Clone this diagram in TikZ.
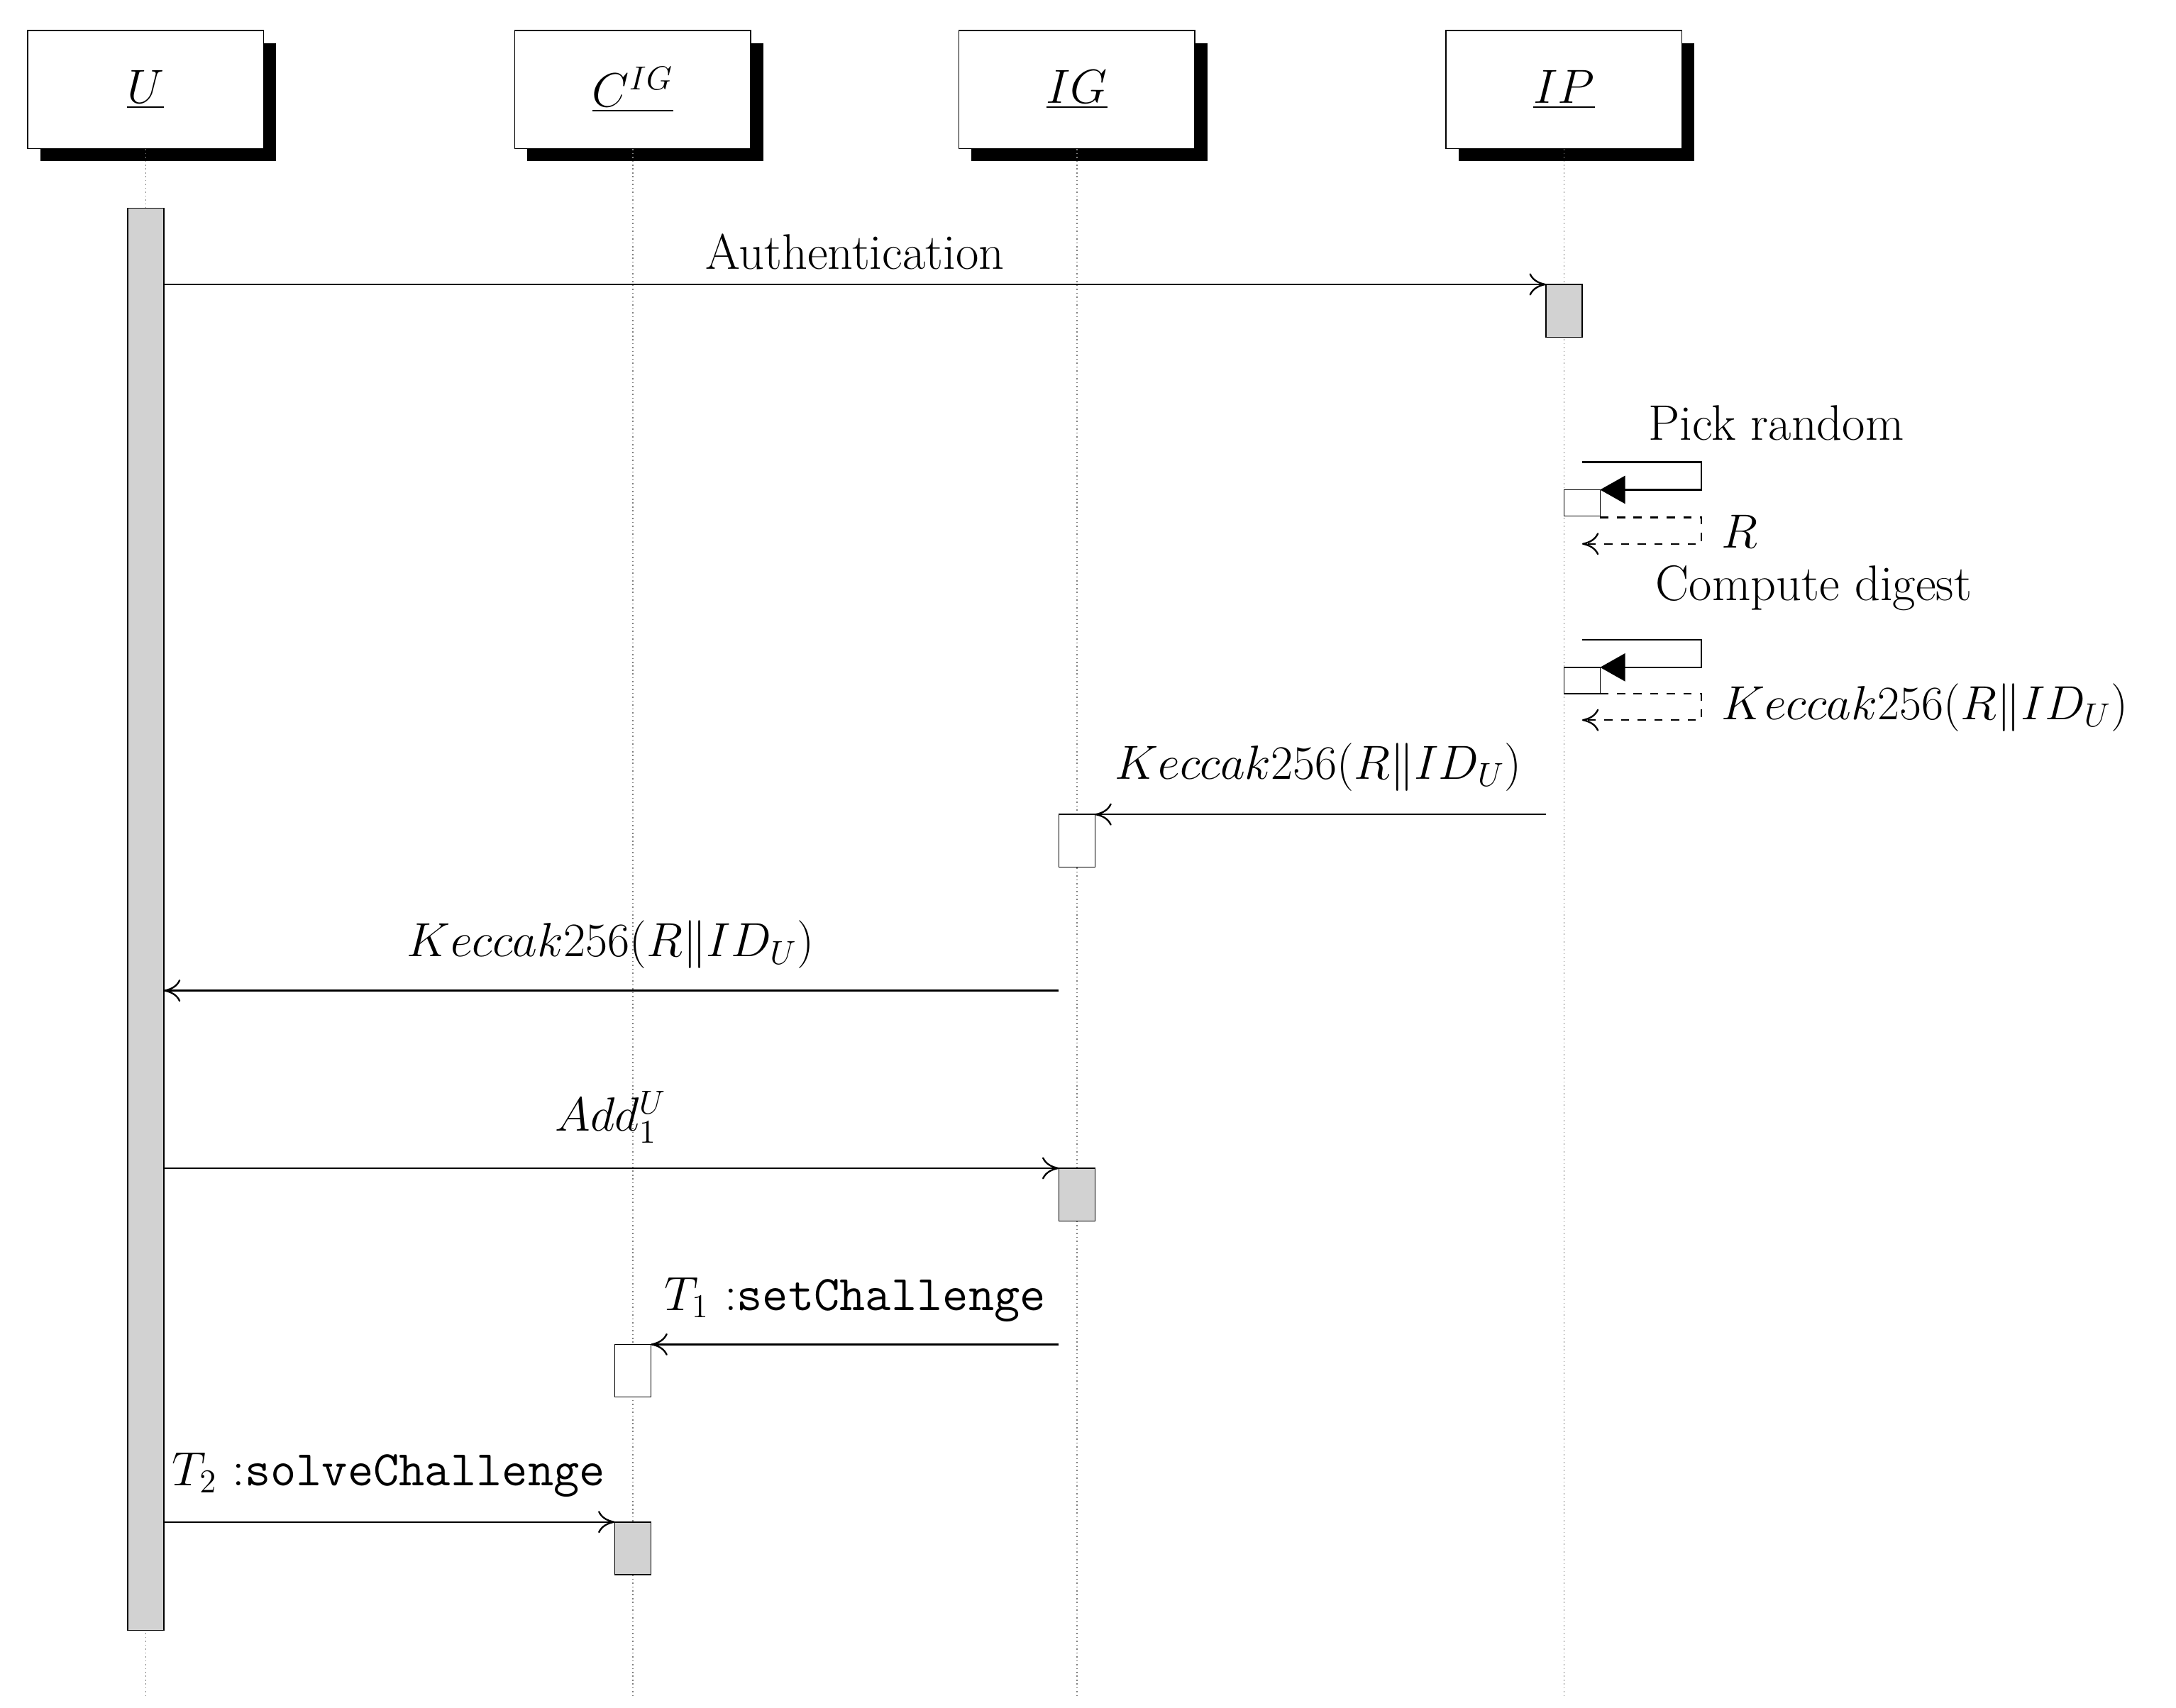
\documentclass[tikz,border=0pt]{standalone}
\usetikzlibrary{arrows.meta}
\begin{document}
\fontsize{18}{22}\selectfont
\begin{tikzpicture}[x=0.5pt,y=-0.5pt,
  obj/.style={draw,fill=white,minimum width=85pt,minimum height=42.5pt,inner sep=0pt},
  shadow/.style={fill=black},
  life/.style={densely dotted,gray},
  bar/.style={draw,fill=gray!35},
  wbar/.style={draw,fill=white},
  msg/.style={-{To[length=6pt,width=8pt]},line width=0.6pt},
  call/.style={-{Triangle[length=9pt,width=10pt]},line width=0.6pt},
  ret/.style={dashed,-{To[length=6pt,width=8pt]},line width=0.6pt},
  lab/.style={inner sep=1pt}]
\useasboundingbox (0,0) rectangle (1568,1231);
% shadows
\foreach \x in {20,371,691,1042}{\fill (\x+9,31) rectangle (\x+179,116);}
\node[obj] (u) at (105,64.5) {\underline{$U$}};
\node[obj] (c) at (456,64.5) {\underline{$C^{IG}$}};
\node[obj] (ig) at (776,64.5) {\underline{$IG$}};
\node[obj] (ip) at (1127,64.5) {\underline{$IP$}};
\coordinate (ue) at (105,1222); \coordinate (ce) at (456,1222);
\coordinate (ige) at (776,1222); \coordinate (ipe) at (1127,1222);
\draw[life] (u.south)--(ue); \draw[life] (c.south)--(ce);
\draw[life] (ig.south)--(ige); \draw[life] (ip.south)--(ipe);
% activations
\draw[bar] (92,150) rectangle (118,1175);
\draw[bar] (1114,205) rectangle (1140,243);
\draw[wbar] (1127,353) rectangle (1153,372);
\draw[wbar] (1127,481) rectangle (1153,500);
\draw[wbar] (763,587) rectangle (789,625);
\draw[bar] (763,842) rectangle (789,880);
\draw[wbar] (443,969) rectangle (469,1007);
\draw[bar] (443,1097) rectangle (469,1135);
% messages
\coordinate (a1) at (118,205); \coordinate (a2) at (1114,205);
\draw[msg] (a1)--(a2) node[lab,midway,above=4pt] {Authentication};
\coordinate (p1) at (1140,333); \coordinate (p2) at (1153,353);
\draw[call] (p1)--(1226,333)--(1226,353)--(p2);
\node[lab] (pr) at (1280,305) {Pick random};
\coordinate (r1) at (1153,373); \coordinate (r2) at (1140,392);
\draw[ret] (r1)--(1226,373)--(1226,392)--(r2);
\node[lab,anchor=west] (rl) at (1238,383) {$R$};
\coordinate (q1) at (1140,461); \coordinate (q2) at (1153,481);
\draw[call] (q1)--(1226,461)--(1226,481)--(q2);
\node[lab] (cd) at (1307,424) {Compute digest};
\coordinate (s1) at (1153,500); \coordinate (s2) at (1140,519);
\draw[ret] (s1)--(1226,500)--(1226,519)--(s2);
\node[lab,anchor=west] (kl) at (1238,510) {$Keccak256(R\|ID_U)$};
\coordinate (b1) at (1114,587); \coordinate (b2) at (789,587);
\draw[msg] (b1)--(b2);
\node[lab] at (950,553) {$Keccak256(R\|ID_U)$};
\coordinate (d1) at (763,714); \coordinate (d2) at (118,714);
\draw[msg] (d1)--(d2);
\node[lab] at (440,681) {$Keccak256(R\|ID_U)$};
\coordinate (e1) at (118,842); \coordinate (e2) at (763,842);
\draw[msg] (e1)--(e2);
\node[lab] at (440,805) {$Add_1^U$};
\coordinate (f1) at (763,969); \coordinate (f2) at (469,969);
\draw[msg] (f1)--(f2);
\node[lab] at (616,937) {$T_1$ :\texttt{setChallenge}};
\coordinate (g1) at (118,1097); \coordinate (g2) at (443,1097);
\draw[msg] (g1)--(g2);
\node[lab] at (280,1063) {$T_2$ :\texttt{solveChallenge}};
\end{tikzpicture}
\end{document}
